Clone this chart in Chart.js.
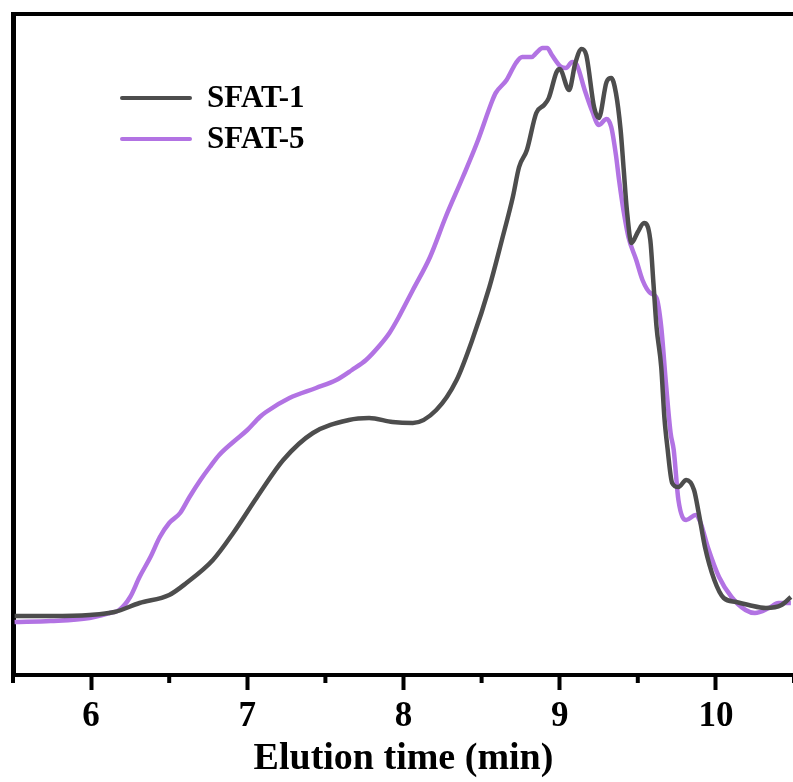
<!DOCTYPE html>
<html>
<head>
<meta charset="utf-8">
<script src="https://cdn.jsdelivr.net/npm/chart.js@4.4.1/dist/chart.umd.min.js"></script>
<style>
  html, body { margin: 0; padding: 0; background: #fff; overflow: hidden; }
  canvas { display: block; }
</style>
</head>
<body>
<canvas id="gpc" width="800" height="782"></canvas>
<script>
// GPC traces, elution time (min) vs detector signal (a.u.)
const seriesLabels = ['SFAT-1', 'SFAT-5']
const seriesColors = ['#4d4d4d', '#b273e3']

const sfat1Time = [5.51, 5.74, 5.99, 6.15, 6.31, 6.50, 6.61, 6.78, 6.91, 7.05, 7.08, 7.23, 7.42, 7.65, 7.78, 7.93, 8.06, 8.21, 8.34, 8.44, 8.55, 8.63, 8.70, 8.74, 8.79, 8.85, 8.90, 8.93, 8.98, 9.00, 9.06, 9.10, 9.14, 9.17, 9.22, 9.25, 9.30, 9.33, 9.36, 9.39, 9.41, 9.43, 9.46, 9.50, 9.54, 9.58, 9.60, 9.62, 9.65, 9.67, 9.69, 9.72, 9.76, 9.81, 9.86, 9.89, 9.93, 9.99, 10.05, 10.13, 10.21, 10.32, 10.42, 10.48]
const sfat1Signal = [59, 59, 60, 63, 72, 80, 92, 115, 142, 175, 182, 215, 242, 255, 257, 253, 252, 265, 295, 335, 388, 435, 478, 508, 525, 562, 570, 577, 603, 606, 585, 612, 626, 620, 568, 557, 593, 597, 582, 545, 505, 465, 432, 443, 452, 435, 392, 348, 308, 258, 227, 192, 188, 195, 185, 162, 128, 95, 77, 73, 70, 67, 70, 78]

const sfat5Time = [5.51, 5.74, 5.99, 6.12, 6.18, 6.25, 6.31, 6.38, 6.44, 6.50, 6.57, 6.63, 6.70, 6.76, 6.82, 6.91, 7.00, 7.08, 7.12, 7.27, 7.44, 7.57, 7.67, 7.76, 7.85, 7.91, 7.97, 8.02, 8.06, 8.17, 8.27, 8.38, 8.47, 8.57, 8.59, 8.66, 8.72, 8.76, 8.82, 8.85, 8.89, 8.92, 8.95, 9.01, 9.04, 9.08, 9.11, 9.16, 9.21, 9.25, 9.30, 9.33, 9.36, 9.38, 9.41, 9.44, 9.49, 9.53, 9.58, 9.62, 9.65, 9.68, 9.71, 9.73, 9.76, 9.81, 9.87, 9.90, 9.95, 10.02, 10.10, 10.19, 10.25, 10.34, 10.40, 10.48]
const sfat5Signal = [53, 54, 57, 62, 65, 78, 98, 118, 138, 152, 162, 178, 195, 208, 220, 233, 245, 258, 263, 277, 287, 295, 305, 315, 330, 342, 358, 373, 385, 418, 458, 498, 532, 575, 582, 595, 612, 618, 618, 622, 627, 627, 620, 608, 607, 613, 610, 585, 563, 550, 556, 548, 520, 495, 463, 438, 415, 395, 382, 377, 348, 292, 242, 225, 175, 155, 160, 153, 127, 98, 78, 65, 62, 67, 72, 72]

const xTickLabels = [6, 7, 8, 9, 10]
const xTitle = 'Elution time (min)'

const toPoints = (xs, ys) => xs.map((x, i) => ({ x, y: ys[i] }))

// short ticks at the half-minute marks
const minorTicks = {
  id: 'minorTicks',
  afterDraw(chart) {
    const { ctx } = chart
    const scale = chart.scales.x
    ctx.save()
    ctx.strokeStyle = '#000'
    ctx.lineWidth = 4
    scale.ticks.forEach(t => {
      if (xTickLabels.includes(t.value)) return
      const px = scale.getPixelForValue(t.value)
      ctx.beginPath()
      ctx.moveTo(px, scale.top)
      ctx.lineTo(px, scale.top + 8)
      ctx.stroke()
    })
    ctx.restore()
  }
}

// legend drawn inside the plot, line sample + bold label
const lineLegend = {
  id: 'lineLegend',
  afterDatasetsDraw(chart) {
    const { ctx, chartArea } = chart
    ctx.save()
    ctx.font = 'bold 31px "Liberation Serif"'
    ctx.textBaseline = 'middle'
    chart.data.datasets.forEach((ds, i) => {
      const x = chartArea.left + 109
      const y = chartArea.top + 84 + i * 41
      ctx.strokeStyle = ds.borderColor
      ctx.lineWidth = 4
      ctx.lineCap = 'round'
      ctx.beginPath()
      ctx.moveTo(x, y)
      ctx.lineTo(x + 68, y)
      ctx.stroke()
      ctx.fillStyle = '#000'
      ctx.fillText(ds.label, x + 85, y + 1)
    })
    ctx.restore()
  }
}

Chart.defaults.font.family = '"Liberation Serif", "Times New Roman", serif'
Chart.defaults.font.weight = 'bold'
Chart.defaults.color = '#000'

new Chart(document.getElementById('gpc'), {
  type: 'line',
  data: {
    datasets: [
      {
        label: seriesLabels[0],
        data: toPoints(sfat1Time, sfat1Signal),
        borderColor: seriesColors[0],
        borderWidth: 4.5,
        pointRadius: 0,
        cubicInterpolationMode: 'monotone',
        fill: false
      },
      {
        label: seriesLabels[1],
        data: toPoints(sfat5Time, sfat5Signal),
        borderColor: seriesColors[1],
        borderWidth: 4.5,
        pointRadius: 0,
        cubicInterpolationMode: 'monotone',
        fill: false
      }
    ]
  },
  options: {
    responsive: false,
    animation: false,
    layout: { padding: { left: 13, right: 5, top: 14, bottom: 0 } },
    plugins: { legend: { display: false }, tooltip: { enabled: false } },
    scales: {
      x: {
        type: 'linear',
        position: 'bottom',
        min: 5.5,
        max: 10.5,
        afterFit: s => { s.height = 107 },
        border: { display: true, color: '#000', width: 4 },
        grid: {
          display: true,
          drawOnChartArea: false,
          drawTicks: true,
          tickLength: 15,
          tickWidth: 4,
          tickColor: c => (c.tick && xTickLabels.includes(c.tick.value)) ? '#000' : 'rgba(0,0,0,0)'
        },
        ticks: {
          stepSize: 0.5,
          autoSkip: false,
          maxRotation: 0,
          padding: 6,
          font: { size: 35, weight: 'bold' },
          color: '#000',
          callback: v => xTickLabels.includes(v) ? String(v) : ''
        },
        title: {
          display: true,
          text: xTitle,
          color: '#000',
          font: { size: 38, weight: 'bold' },
          padding: { top: 0, bottom: 0 }
        }
      },
      xTop: {
        type: 'linear',
        position: 'top',
        min: 5.5,
        max: 10.5,
        afterFit: s => { s.height = 0 },
        border: { display: true, color: '#000', width: 4 },
        grid: { display: false },
        ticks: { display: false }
      },
      y: {
        type: 'linear',
        position: 'left',
        min: 0,
        max: 661,
        afterFit: s => { s.width = 0 },
        border: { display: true, color: '#000', width: 5 },
        grid: { display: false },
        ticks: { display: false }
      }
    }
  },
  plugins: [minorTicks, lineLegend]
})
</script>
</body>
</html>
